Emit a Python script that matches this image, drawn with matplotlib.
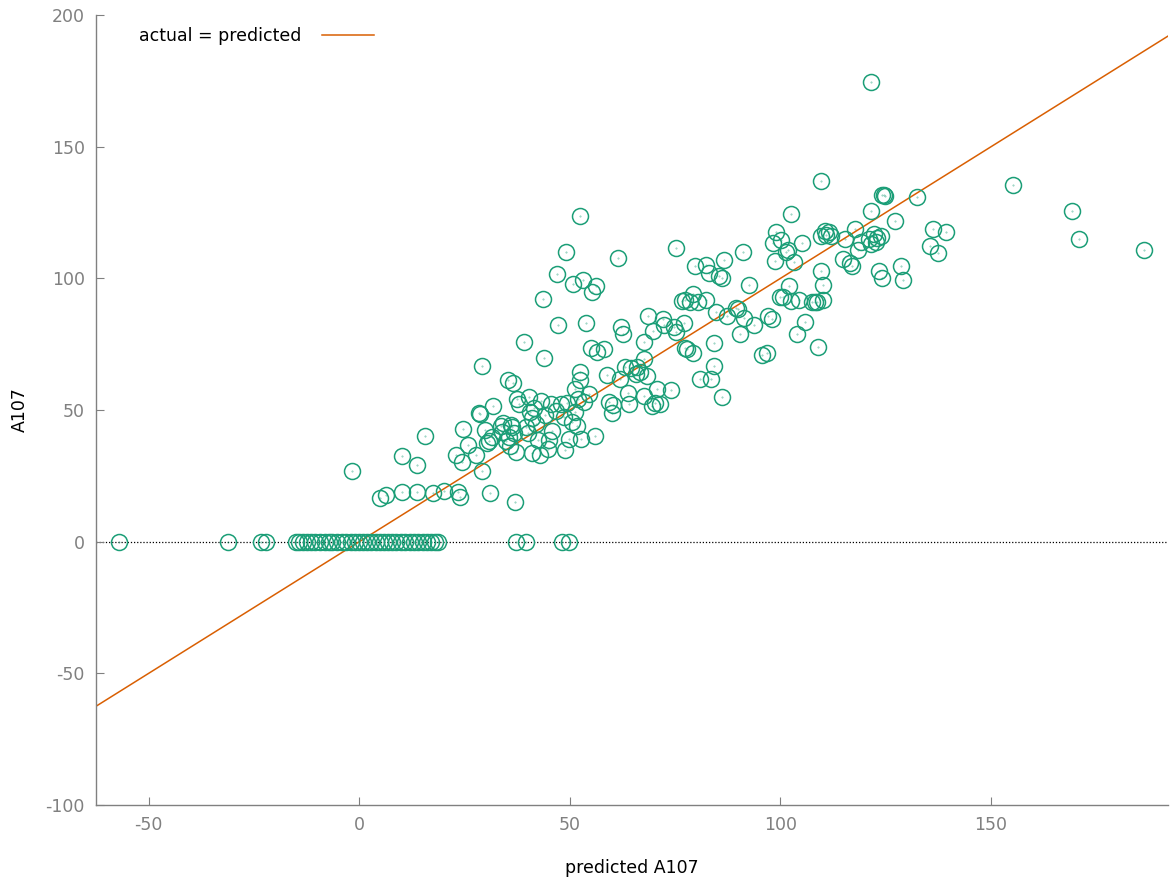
import matplotlib.pyplot as plt

plt.rcParams['axes.unicode_minus'] = False

# predictions whose actual value is zero
zero_pred = [-57.0, -31.1, -23.3, -22.1, -15.0, -14.3, -13.3, -12.4, -11.4, -10.5,
             -9.3, -8.1, -7.1, -6.4, -5.2, -4.0, -3.1, -1.9, -1.0, 0.0, 1.0, 1.9,
             2.9, 4.0, 5.0, 5.9, 6.9, 7.8, 8.8, 10.0, 10.9, 12.1, 13.1, 14.0, 15.2,
             16.2, 17.1, 18.1, 18.8, 37.3, 39.7, 48.2, 49.9]

# remaining (predicted, actual) pairs
predicted = [-1.7, 5.0, 6.4, 10.2, 10.2, 13.8, 13.8, 15.7, 17.6, 20.2, 23.0, 23.5, 23.8,
             24.5, 24.7, 25.9, 27.8, 28.5, 28.7, 29.2, 29.2, 29.9, 30.4, 30.9, 31.4, 31.1,
             31.8, 33.7, 34.0, 34.2, 34.9, 35.6, 35.9, 36.3, 35.4, 36.6, 36.1, 36.8, 37.3,
             37.0, 37.5, 38.0, 39.0, 39.7, 40.1, 40.4, 40.6, 40.9, 41.1, 41.6, 42.0, 42.5,
             42.8, 43.2, 43.7, 43.9, 44.2, 44.7, 45.1, 45.6, 45.8, 46.8, 47.0, 47.3, 48.0,
             48.5, 48.9, 49.2, 49.4, 49.9, 50.4, 50.8, 51.1, 51.3, 51.8, 52.0, 52.3, 52.5,
             52.3, 52.7, 53.0, 53.4, 53.9, 54.6, 55.1, 55.3, 56.0, 56.3, 56.5, 58.0, 58.9,
             59.4, 59.9, 60.3, 61.5, 62.0, 62.2, 62.7, 63.2, 63.7, 64.1, 64.6, 65.6, 66.0,
             66.7, 67.5, 67.5, 67.7, 68.2, 68.6, 69.4, 69.8, 70.3, 70.8, 71.3, 72.0, 72.4,
             74.1, 74.8, 75.3, 75.1, 76.7, 77.2, 77.4, 77.4, 77.9, 78.6, 79.3, 79.3, 79.8,
             80.3, 80.8, 82.2, 82.4, 83.1, 83.6, 84.1, 84.3, 84.6, 85.3, 86.0, 86.0, 86.5,
             87.4, 89.5, 90.0, 90.5, 91.0, 91.4, 92.6, 93.6, 95.5, 96.9, 97.1, 97.9, 98.3,
             98.6, 99.0, 100.0, 100.2, 100.7, 101.2, 101.7, 102.1, 102.4, 102.6, 103.3,
             104.0, 104.5, 105.0, 105.9, 107.4, 108.1, 108.6, 108.8, 109.7, 109.7, 109.7,
             110.0, 110.0, 110.5, 110.7, 111.4, 112.1, 114.9, 115.4, 116.4, 116.9, 117.8,
             118.3, 119.2, 121.4, 121.4, 121.1, 121.6, 122.1, 122.6, 123.0, 123.5, 123.8,
             124.2, 124.5, 124.0, 124.9, 127.3, 128.7, 129.2, 132.3, 135.4, 136.3, 137.3,
             139.4, 155.1, 169.1, 170.8, 186.2]
actual = [27.0, 16.7, 17.8, 19.0, 32.7, 29.2, 19.0, 40.3, 18.6, 19.4, 33.0, 19.0, 17.1,
          30.4, 42.9, 36.8, 33.0, 49.0, 48.6, 27.0, 66.8, 42.5, 37.6, 38.4, 39.9, 18.6,
          51.7, 44.0, 41.8, 45.2, 38.4, 39.9, 36.5, 43.7, 61.5, 60.4, 44.4, 41.4, 34.2,
          15.2, 54.3, 52.4, 76.0, 43.7, 41.4, 55.0, 49.4, 33.8, 47.1, 50.9, 44.8, 38.7,
          33.0, 53.6, 92.3, 69.9, 48.2, 35.3, 38.7, 52.4, 42.2, 49.8, 101.8, 82.4, 52.4,
          47.5, 34.9, 110.1, 52.8, 39.1, 45.6, 98.0, 58.1, 49.4, 44.1, 54.3, 61.5, 123.8,
          64.6, 39.1, 99.5, 53.2, 83.2, 56.2, 73.7, 95.0, 40.3, 97.2, 72.2, 73.3, 63.4,
          53.2, 49.0, 52.0, 107.9, 61.9, 81.7, 79.0, 66.5, 56.6, 52.4, 66.1, 63.8, 66.5,
          64.6, 55.4, 76.0, 69.5, 63.0, 85.8, 51.7, 80.1, 52.8, 58.1, 52.4, 84.7, 82.4,
          57.7, 81.7, 79.8, 111.7, 91.5, 83.2, 91.9, 73.7, 73.3, 91.1, 94.2, 71.8, 104.7,
          91.1, 61.9, 91.9, 105.2, 102.2, 61.9, 75.6, 66.8, 87.4, 101.0, 55.0, 100.3, 107.1,
          85.8, 88.9, 88.5, 79.0, 110.1, 85.1, 97.6, 82.4, 71.0, 71.8, 85.8, 84.7, 113.6,
          106.7, 117.7, 93.0, 114.4, 93.0, 110.1, 110.9, 97.2, 124.6, 91.5, 106.3,
          79.0, 91.9, 113.6, 83.6, 91.1, 91.1, 91.1, 74.1, 137.1, 102.9, 115.9,
          97.6, 91.9, 118.1, 116.6, 117.7, 116.2, 107.5, 115.1, 106.0, 104.8, 118.9,
          110.9, 113.9, 174.7, 125.7, 115.1, 113.2, 117.0, 113.9, 115.5, 102.9, 116.2,
          131.8, 131.8, 100.3, 131.4, 121.9, 104.8, 99.5, 131.0, 112.4, 118.9, 109.8,
          117.7, 135.6, 125.7, 115.1, 110.9]

x_ticks = [-50, 0, 50, 100, 150]
y_ticks = [-100, -50, 0, 50, 100, 150, 200]

green = '#1b9e77'
orange = '#d95f02'
gray = '#808080'

fig = plt.figure(figsize=(11.72, 8.83), dpi=100)
ax = fig.add_axes([0.0819, 0.0883, 0.9147, 0.8947])

xs = predicted + zero_pred
ys = actual + [0] * len(zero_pred)

ax.axhline(0, color='black', lw=0.9, ls=(0, (1, 1.5)), zorder=1)
ax.plot([-62.5, 192], [-62.5, 192], color=orange, lw=1.1, label='actual = predicted', zorder=2)
ax.plot(xs, ys, ls='none', marker='o', ms=11.5, mfc='none', mec=green, mew=1.1, zorder=3)
ax.plot(xs, ys, ls='none', marker='.', ms=0.8, color=green, alpha=0.6, zorder=3)

ax.set_xlim(-62.5, 192)
ax.set_ylim(-100, 200)
ax.set_xticks(x_ticks)
ax.set_yticks(y_ticks)

for s in ['top', 'right']:
    ax.spines[s].set_visible(False)
for s in ['left', 'bottom']:
    ax.spines[s].set_color(gray)
    ax.spines[s].set_linewidth(1)
ax.tick_params(direction='in', length=6, color=gray, labelcolor=gray, labelsize=12.5, pad=8)

ax.set_xlabel('predicted A107', fontsize=12.5, labelpad=18)
ax.set_ylabel('A107', fontsize=12.5, labelpad=12)

ax.legend(loc='upper left', bbox_to_anchor=(0.026, 1.004), markerfirst=False, frameon=False,
          fontsize=12.5, handlelength=3.0, handletextpad=1.15)

fig.savefig('out.png', dpi=100)
